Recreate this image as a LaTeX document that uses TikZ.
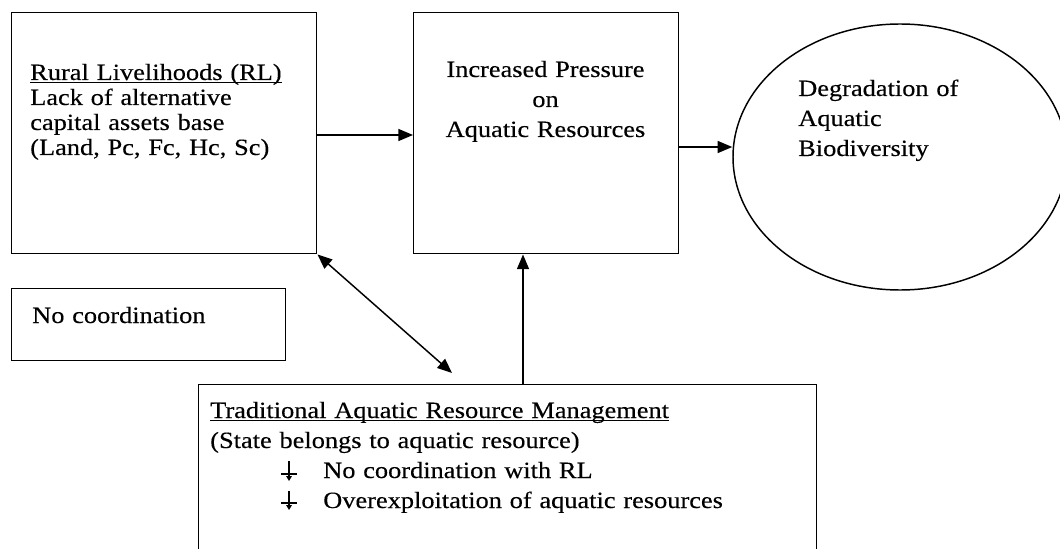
\documentclass[tikz,border=0pt]{standalone}
\usepackage{fontspec}
\setmainfont{Liberation Serif}[FakeStretch=1.13,FakeBold=0.3]
\usetikzlibrary{shapes.geometric,arrows.meta}
\newcommand{\ulnear}[1]{\underline{\smash{#1}}}
\begin{document}
\begin{tikzpicture}[x=0.75pt,y=-0.75pt,
  box/.style={draw,line width=1.1pt,rectangle,inner sep=0pt,anchor=north west},
  txt/.style={inner sep=0pt,anchor=base west,align=left,font=\fontsize{17.5}{22.5}\selectfont},
  arr/.style={line width=1.1pt,-{Triangle[length=11pt,width=9pt]}},
  darr/.style={line width=1.1pt,{Triangle[length=11pt,width=9pt]}-{Triangle[length=11pt,width=9pt]}},
  tack/.style={line width=0.9pt}
]
\useasboundingbox (0,0) rectangle (1060,549);
\clip (0,0) rectangle (1060,549);

% boxes
\node[box,minimum width=228.75pt,minimum height=180.75pt] (rl) at (11,12) {};
\node[box,minimum width=198.75pt,minimum height=180.75pt] (p) at (413,12) {};
\node[box,minimum width=205.5pt,minimum height=54pt] (nc) at (11,288) {};
\node[box,minimum width=463.5pt,minimum height=135pt] (bot) at (198,384) {};
\node[draw,ellipse,line width=1.1pt,minimum width=250.5pt,minimum height=199.5pt,inner sep=0pt] (deg) at (900,157) {};

% texts
\node[txt,text width=240pt,font=\fontsize{17.5}{18.75}\selectfont] (rltxt) at (30,80)
  {\ulnear{Rural Livelihoods (RL)}\\Lack of alternative\\capital assets base\\(Land, Pc, Fc, Hc, Sc)};
\node[txt,anchor=base,align=center,text width=190pt] (ptxt) at (545.5,77)
  {Increased Pressure\\on\\Aquatic Resources};
\node[txt,text width=160pt] (degtxt) at (798,96)
  {Degradation of\\Aquatic\\Biodiversity};
\node[txt,text width=200pt] (nctxt) at (32,323) {No coordination};
\node[txt,text width=455pt] (bottxt) at (210,418)
  {\ulnear{Traditional Aquatic Resource Management}\\(State belongs to aquatic resource)\\
   \hspace*{84.75pt}No coordination with RL\\
   \hspace*{84.75pt}Overexploitation of aquatic resources};

% bullets
\draw[tack] (289,461) -- (289,478);
\draw[tack] (281,474) -- (297,474);
\fill (286,476) -- (292,476) -- (289,481) -- cycle;
\draw[tack] (289,491) -- (289,508);
\draw[tack] (281,503) -- (297,503);
\fill (286,505) -- (292,505) -- (289,510) -- cycle;

% connectors
\coordinate (dend) at (452,373);
\draw[arr] (rl.east |- 0,135) -- (p.west |- 0,135);
\draw[arr] (p.east |- 0,147) -- (deg.west |- 0,147);
\draw[darr] (rl.south east) -- (dend);
\draw[arr] (bot.north -| 523,0) -- (p.south -| 523,0);
\end{tikzpicture}
\end{document}
